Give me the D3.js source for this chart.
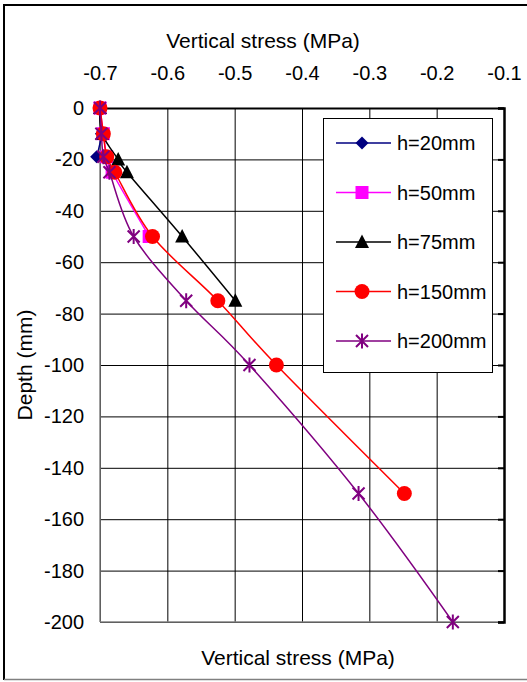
<!DOCTYPE html>
<html>
<head>
<meta charset="utf-8">
<script src="https://cdn.jsdelivr.net/npm/d3@7"></script>
<style>
  body { margin: 0; background: #fff; }
  text { font-family: "Liberation Sans", Arial, sans-serif; }
</style>
</head>
<body>
<svg width="527" height="682"></svg>
<script>
var svg = d3.select("svg");

// data: depth (mm) and vertical stress (MPa) per series
var depth20 = [0, -10, -19];
var stress20 = [-0.700, -0.698, -0.705];
var depth50 = [0, -10, -19, -25, -50];
var stress50 = [-0.700, -0.695, -0.690, -0.682, -0.627];
var depth75 = [0, -10, -20, -25, -50, -75];
var stress75 = [-0.700, -0.697, -0.673, -0.660, -0.578, -0.499];
var depth150 = [0, -10, -19, -25, -50, -75, -100, -150];
var stress150 = [-0.700, -0.695, -0.690, -0.678, -0.622, -0.525, -0.438, -0.248];
var depth200 = [0, -10, -19, -25, -50, -75, -100, -150, -200];
var stress200 = [-0.700, -0.698, -0.695, -0.686, -0.650, -0.572, -0.478, -0.316, -0.176];

var seriesNames = ["h=20mm", "h=50mm", "h=75mm", "h=150mm", "h=200mm"];
var xTicks = [-0.7, -0.6, -0.5, -0.4, -0.3, -0.2, -0.1];
var yTicks = [0, -20, -40, -60, -80, -100, -120, -140, -160, -180, -200];

var colors = ["#000080", "#ff00ff", "#000000", "#ff0000", "#800080"];
var shapes = ["diamond", "square", "triangle", "circle", "star"];

var series = [
    {name: seriesNames[0], d: depth20, s: stress20},
    {name: seriesNames[1], d: depth50, s: stress50},
    {name: seriesNames[2], d: depth75, s: stress75},
    {name: seriesNames[3], d: depth150, s: stress150},
    {name: seriesNames[4], d: depth200, s: stress200}
];

// plain hyphen for negative numbers, like the original
var loc = d3.formatLocale({decimal: ".", thousands: ",", grouping: [3], currency: ["", ""], minus: "-"});

var pLeft = 100, pRight = 504, pTop = 108, pBottom = 622;
var x = d3.scaleLinear().domain([-0.7, -0.1]).range([pLeft, pRight]);
var y = d3.scaleLinear().domain([0, -200]).range([pTop, pBottom]);

// outer chart border
svg.append("line").attr("x1", 4).attr("x2", 527).attr("y1", 5).attr("y2", 5)
    .attr("stroke", "#000").attr("stroke-width", 2);
svg.append("line").attr("x1", 4).attr("x2", 4).attr("y1", 4).attr("y2", 680)
    .attr("stroke", "#000").attr("stroke-width", 2);
svg.append("line").attr("x1", 4).attr("x2", 527).attr("y1", 679.5).attr("y2", 679.5)
    .attr("stroke", "#808080").attr("stroke-width", 1.5);

// grid
svg.append("g").attr("transform", "translate(0," + pBottom + ")")
    .call(d3.axisBottom(x).tickValues(xTicks).tickSize(-(pBottom - pTop)).tickFormat(""))
    .call(function (g) {
        g.select(".domain").remove();
        g.selectAll("line").attr("stroke", "#000").attr("stroke-width", 1);
    });
svg.append("g").attr("transform", "translate(" + pLeft + ",0)")
    .call(d3.axisLeft(y).tickValues(yTicks).tickSize(-(pRight - pLeft)).tickFormat(""))
    .call(function (g) {
        g.select(".domain").remove();
        g.selectAll("line").attr("stroke", "#000").attr("stroke-width", 1);
    });

// plot area border (left, bottom gray)
svg.append("line").attr("x1", pLeft).attr("x2", pLeft).attr("y1", pTop).attr("y2", pBottom)
    .attr("stroke", "#808080").attr("stroke-width", 1.5);
svg.append("line").attr("x1", pLeft).attr("x2", pRight).attr("y1", pBottom).attr("y2", pBottom)
    .attr("stroke", "#808080").attr("stroke-width", 1.5);

// top x axis with labels
svg.append("g").attr("transform", "translate(0," + pTop + ")")
    .call(d3.axisTop(x).tickValues(xTicks).tickSize(0).tickPadding(28).tickFormat(loc.format(".1f")))
    .call(function (g) {
        g.select(".domain").attr("stroke", "#000").attr("stroke-width", 2);
        g.selectAll("text").attr("font-size", 20).attr("fill", "#000")
            .style("font-family", "'Liberation Sans', Arial, sans-serif");
    });

// right y axis line with inward ticks
svg.append("g").attr("transform", "translate(" + pRight + ",0)")
    .call(d3.axisLeft(y).tickValues(yTicks).tickSize(6).tickFormat(""))
    .call(function (g) {
        g.select(".domain").attr("stroke", "#000").attr("stroke-width", 2.5);
        g.selectAll("line").attr("stroke", "#000").attr("stroke-width", 2);
    });

// y labels on the left
svg.append("g").attr("transform", "translate(" + pLeft + ",0)")
    .call(d3.axisLeft(y).tickValues(yTicks).tickSize(0).tickPadding(16).tickFormat(loc.format("d")))
    .call(function (g) {
        g.select(".domain").remove();
        g.selectAll("text").attr("font-size", 20).attr("fill", "#000")
            .style("font-family", "'Liberation Sans', Arial, sans-serif");
    });

// titles
svg.append("text").text("Vertical stress (MPa)")
    .attr("x", 263).attr("y", 48).attr("font-size", 21).attr("text-anchor", "middle");
svg.append("text").text("Vertical stress (MPa)")
    .attr("x", 298).attr("y", 665).attr("font-size", 21).attr("text-anchor", "middle");
svg.append("text").text("Depth (mm)")
    .attr("transform", "translate(32,365) rotate(-90)")
    .attr("font-size", 21).attr("text-anchor", "middle");

// marker drawing
function drawMarker(g, shape, color) {
    if (shape === "diamond") {
        g.append("path").attr("d", "M0,-6.5L6.5,0L0,6.5L-6.5,0Z").attr("fill", color);
    } else if (shape === "square") {
        g.append("rect").attr("x", -6.5).attr("y", -6.5).attr("width", 13).attr("height", 13).attr("fill", color);
    } else if (shape === "triangle") {
        g.append("path").attr("d", "M0,-7.5L7,6L-7,6Z").attr("fill", color);
    } else if (shape === "circle") {
        g.append("circle").attr("r", 7.5).attr("fill", color);
    } else {
        g.append("path").attr("d", "M-6,-6L6,6M-6,6L6,-6M0,-7.5L0,7.5")
            .attr("stroke", color).attr("stroke-width", 2).attr("fill", "none");
    }
}

var line = d3.line()
    .x(function (p) { return x(p[1]); })
    .y(function (p) { return y(p[0]); })
    .curve(d3.curveCatmullRom.alpha(0));

series.forEach(function (sr, i) {
    var pts = sr.d.map(function (d, j) { return [d, sr.s[j]]; });
    svg.append("path").datum(pts).attr("d", line)
        .attr("fill", "none").attr("stroke", colors[i]).attr("stroke-width", 1.5);
    pts.forEach(function (p) {
        var g = svg.append("g").attr("transform", "translate(" + x(p[1]) + "," + y(p[0]) + ")");
        drawMarker(g, shapes[i], colors[i]);
    });
});

// legend
var lg = svg.append("g");
lg.append("rect").attr("x", 323.5).attr("y", 118.5).attr("width", 169).attr("height", 254)
    .attr("fill", "#fff").attr("stroke", "#000").attr("stroke-width", 1);
seriesNames.forEach(function (name, i) {
    var ly = 143 + i * 49.5;
    lg.append("line").attr("x1", 336).attr("x2", 391).attr("y1", ly).attr("y2", ly)
        .attr("stroke", colors[i]).attr("stroke-width", 1.5);
    drawMarker(lg.append("g").attr("transform", "translate(362," + ly + ")"), shapes[i], colors[i]);
    lg.append("text").text(name).attr("x", 397).attr("y", ly + 7).attr("font-size", 20);
});
</script>
</body>
</html>
